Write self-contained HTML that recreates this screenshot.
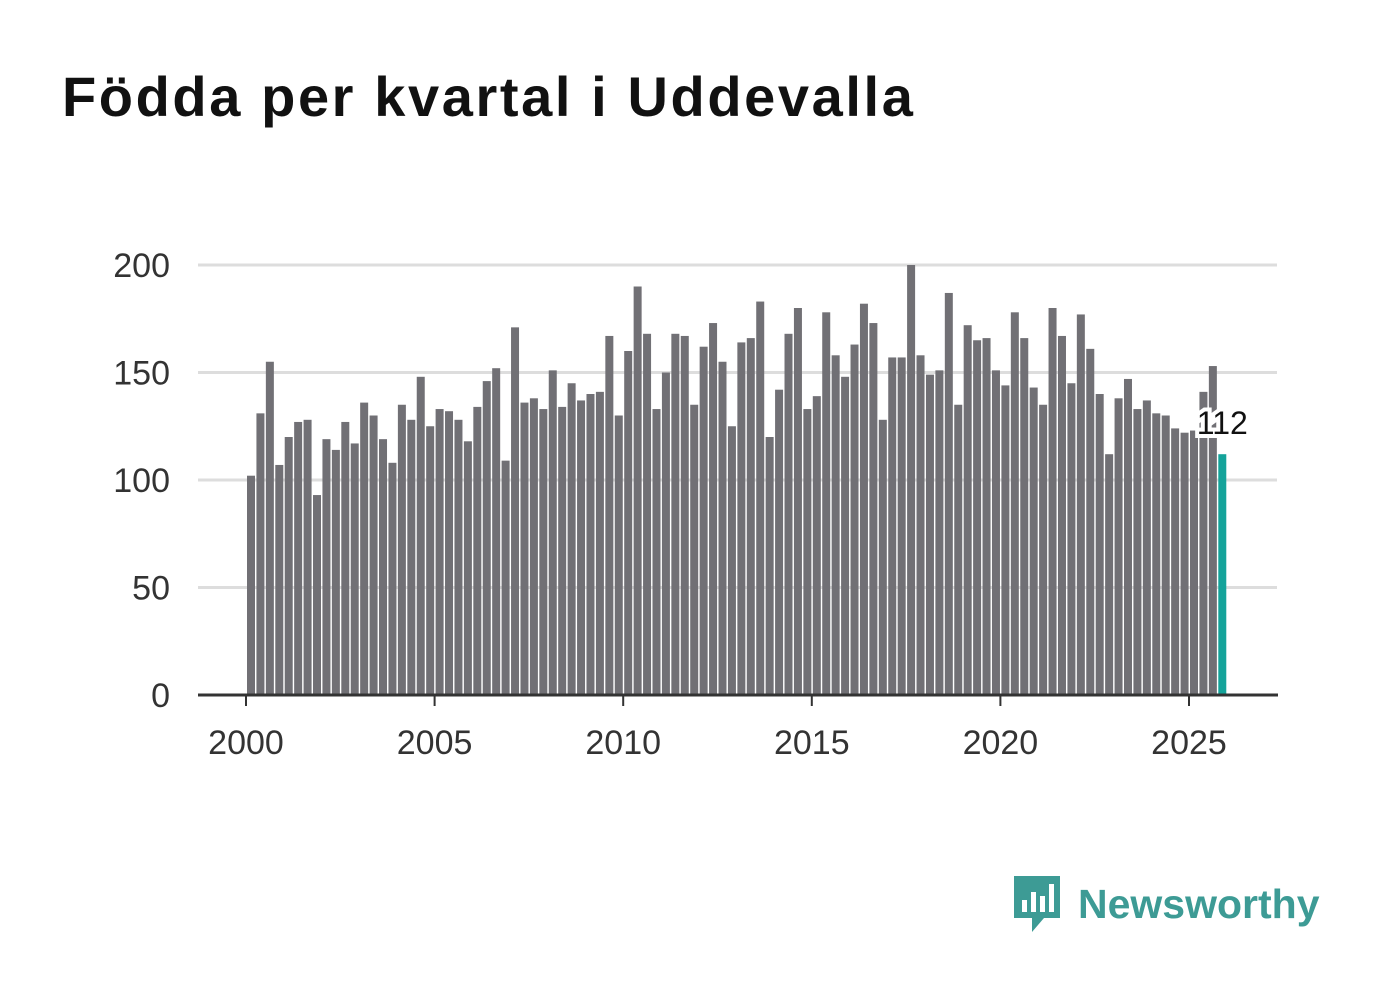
<!DOCTYPE html>
<html><head><meta charset="utf-8"><style>
body{margin:0;background:#fff;width:1382px;height:999px;overflow:hidden;font-family:"Liberation Sans",sans-serif}
h1{position:absolute;left:62px;top:64px;margin:0;font-size:56px;font-weight:bold;color:#111;letter-spacing:2.6px}
</style></head><body>
<h1>Födda per kvartal i Uddevalla</h1>
<svg id="chart" width="1382" height="999" style="position:absolute;left:0;top:0"></svg>
<div style="position:absolute;left:1012px;top:874px;display:flex;align-items:center">
<svg width="50" height="60"><path d="M2 2h46v42H32l-12 14v-14H2z" fill="#3d9b95"/><rect x="10" y="26" width="5" height="12" fill="#fff"/><rect x="19" y="18" width="5" height="20" fill="#fff"/><rect x="28" y="22" width="5" height="16" fill="#fff"/><rect x="37" y="10" width="5" height="28" fill="#fff"/></svg>
<span style="font-size:41px;font-weight:bold;color:#3d9b95;margin-left:16px">Newsworthy</span></div>
<script>
const years=['2000','2005','2010','2015','2020','2025'];
const yTicks=[0,50,100,150,200];
const values=[102,131,155,107,120,127,128,93,119,114,127,117,136,130,119,108,135,128,148,125,133,132,128,118,134,146,152,109,171,136,138,133,151,134,145,137,140,141,167,130,160,190,168,133,150,168,167,135,162,173,155,125,164,166,183,120,142,168,180,133,139,178,158,148,163,182,173,128,157,157,200,158,149,151,187,135,172,165,166,151,144,178,166,143,135,180,167,145,177,161,140,112,138,147,133,137,131,130,124,122,123,141,153,112];
const NS='http://www.w3.org/2000/svg',svg=document.getElementById('chart');
const y=v=>695-v*2.15, x=t=>246+(t-2000)*37.72;
function el(t,a){const e=document.createElementNS(NS,t);for(const k in a)e.setAttribute(k,a[k]);svg.appendChild(e);return e;}
yTicks.forEach(v=>{if(v>0){const g=el('line',{x1:198,x2:1277,y1:y(v),y2:y(v),stroke:'#ddd','stroke-width':3});

}
const t=el('text',{x:170,y:y(v)+12,'text-anchor':'end','font-size':34,fill:'#333'});t.textContent=v;

});
values.forEach((v,i)=>{const b=el('rect',{x:x(2000+i/4)+1,y:y(v),width:8,height:v*2.15,fill:i==values.length-1?'#14a39a':'#717075'});

});
const ax=el('line',{x1:198,x2:1278,y1:695,y2:695,stroke:'#333','stroke-width':3});


years.forEach(yr=>{const tk=el('line',{x1:x(+yr),x2:x(+yr),y1:695,y2:706,stroke:'#333','stroke-width':2});


const t=el('text',{x:x(+yr),y:754,'text-anchor':'middle','font-size':34,fill:'#333'});t.textContent=yr;

});
const last=values[values.length-1];
const lb=el('text',{x:x(2000+(values.length-1)/4)+5,y:y(last)-20,'text-anchor':'middle','font-size':32,fill:'#111',stroke:'#fff','stroke-width':8,'paint-order':'stroke'});
lb.textContent=last;


</script>
</body></html>
